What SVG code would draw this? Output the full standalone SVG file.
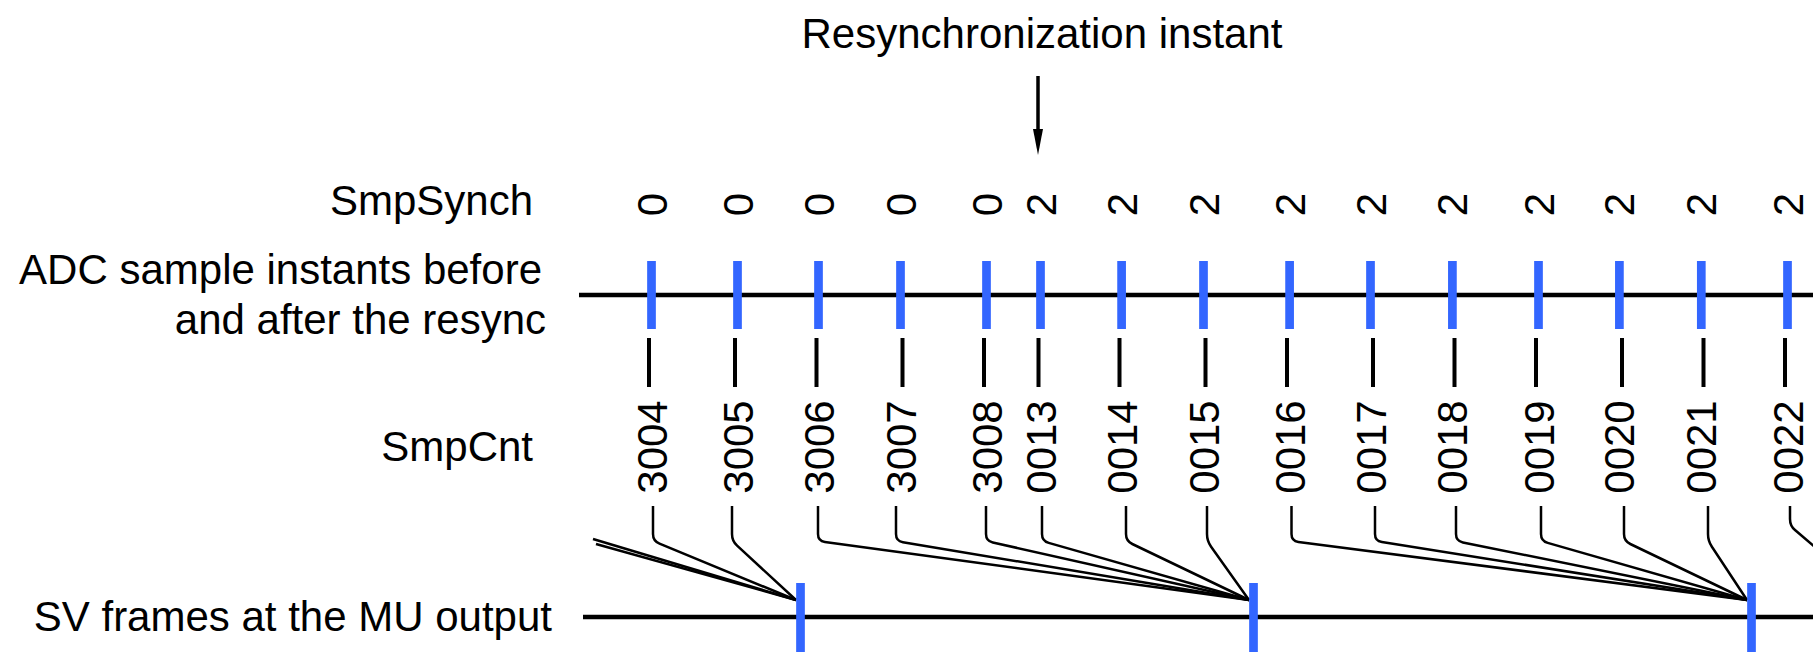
<svg xmlns="http://www.w3.org/2000/svg" width="1813" height="652" viewBox="0 0 1813 652">
  <style>
    .lbl { font-family: "Liberation Sans", Arial, Helvetica, sans-serif; font-size: 42px; fill: #000; }
    .end { text-anchor: end; }
    .mid { text-anchor: middle; }
    .axis { stroke: #000; stroke-width: 4.3; fill: none; }
    .tick { stroke: #3366ff; stroke-width: 8.7; fill: none; }
    .stem { stroke: #000; stroke-width: 4; fill: none; }
    .wire { stroke: #000; stroke-width: 2.5; fill: none; stroke-linejoin: round; }
    .pointer { stroke: #000; stroke-width: 3.5; fill: none; }
  </style>
  <defs>
    <marker id="head" markerUnits="userSpaceOnUse" viewBox="0 0 26 10" markerWidth="26" markerHeight="10" refX="6" refY="5" orient="auto">
      <path d="M0,0 L26,5 L0,10 z" fill="#000"/>
    </marker>
  </defs>
  <rect width="1813" height="652" fill="#fff"/>

  <!-- resynchronization marker -->
  <g id="resync">
    <text class="lbl mid" x="1042" y="48">Resynchronization instant</text>
    <line class="pointer" x1="1038" y1="76" x2="1038" y2="135" marker-end="url(#head)"/>
  </g>

  <!-- row labels -->
  <g id="row-labels">
    <text class="lbl end" x="533" y="215">SmpSynch</text>
    <text class="lbl end" x="542" y="284">ADC sample instants before</text>
    <text class="lbl end" x="546" y="334">and after the resync</text>
    <text class="lbl end" x="533" y="461">SmpCnt</text>
    <text class="lbl end" x="552" y="631">SV frames at the MU output</text>
  </g>

  <!-- SmpSynch values, one per sample -->
  <g id="smpsynch">
    <text class="lbl mid" transform="translate(666.5 204.5) rotate(-90)">0</text>
    <text class="lbl mid" transform="translate(752.5 204.5) rotate(-90)">0</text>
    <text class="lbl mid" transform="translate(833.5 204.5) rotate(-90)">0</text>
    <text class="lbl mid" transform="translate(915.5 204.5) rotate(-90)">0</text>
    <text class="lbl mid" transform="translate(1001.5 204.5) rotate(-90)">0</text>
    <text class="lbl mid" transform="translate(1055.5 204.5) rotate(-90)">2</text>
    <text class="lbl mid" transform="translate(1136.6 204.5) rotate(-90)">2</text>
    <text class="lbl mid" transform="translate(1218.5 204.5) rotate(-90)">2</text>
    <text class="lbl mid" transform="translate(1304.6 204.5) rotate(-90)">2</text>
    <text class="lbl mid" transform="translate(1385.5 204.5) rotate(-90)">2</text>
    <text class="lbl mid" transform="translate(1467.4 204.5) rotate(-90)">2</text>
    <text class="lbl mid" transform="translate(1553.5 204.5) rotate(-90)">2</text>
    <text class="lbl mid" transform="translate(1634.4 204.5) rotate(-90)">2</text>
    <text class="lbl mid" transform="translate(1716.3 204.5) rotate(-90)">2</text>
    <text class="lbl mid" transform="translate(1802.5 204.5) rotate(-90)">2</text>
  </g>

  <!-- ADC sampling axis with sample instants -->
  <g id="adc-axis">
    <line class="axis" x1="579" y1="295" x2="1813" y2="295"/>
    <path class="tick" d="M651.5 261V329 M737.5 261V329 M818.5 261V329 M900.5 261V329 M986.5 261V329 M1040.5 261V329 M1121.6 261V329 M1203.5 261V329 M1289.6 261V329 M1370.5 261V329 M1452.4 261V329 M1538.5 261V329 M1619.4 261V329 M1701.3 261V329 M1787.5 261V329"/>
  </g>

  <!-- stems from sample instants to counters -->
  <g id="stems">
    <path class="stem" d="M649 338V387 M735 338V387 M816.5 338V387 M902.5 338V387 M984 338V387 M1038.5 338V387 M1119.5 338V387 M1205.5 338V387 M1287 338V387 M1373 338V387 M1454.5 338V387 M1536 338V387 M1622 338V387 M1703.5 338V387 M1785 338V387"/>
  </g>

  <!-- SmpCnt values -->
  <g id="smpcnt">
    <text class="lbl mid" transform="translate(666.5 447) rotate(-90)">3004</text>
    <text class="lbl mid" transform="translate(752.5 447) rotate(-90)">3005</text>
    <text class="lbl mid" transform="translate(833.5 447) rotate(-90)">3006</text>
    <text class="lbl mid" transform="translate(915.5 447) rotate(-90)">3007</text>
    <text class="lbl mid" transform="translate(1001.5 447) rotate(-90)">3008</text>
    <text class="lbl mid" transform="translate(1055.5 447) rotate(-90)">0013</text>
    <text class="lbl mid" transform="translate(1136.6 447) rotate(-90)">0014</text>
    <text class="lbl mid" transform="translate(1218.5 447) rotate(-90)">0015</text>
    <text class="lbl mid" transform="translate(1304.6 447) rotate(-90)">0016</text>
    <text class="lbl mid" transform="translate(1385.5 447) rotate(-90)">0017</text>
    <text class="lbl mid" transform="translate(1467.4 447) rotate(-90)">0018</text>
    <text class="lbl mid" transform="translate(1553.5 447) rotate(-90)">0019</text>
    <text class="lbl mid" transform="translate(1634.4 447) rotate(-90)">0020</text>
    <text class="lbl mid" transform="translate(1716.3 447) rotate(-90)">0021</text>
    <text class="lbl mid" transform="translate(1802.5 447) rotate(-90)">0022</text>
  </g>

  <!-- sample-to-frame connectors -->
  <g id="connectors">
    <!-- frame 1 -->
    <path class="wire" d="M593 539L796 600"/>
    <path class="wire" d="M596 544L796 600"/>
    <path class="wire" d="M653 506V534Q653 541 659.5 543.7L796 600"/>
    <path class="wire" d="M732 506V534Q732 541 737.1 545.7L796 600"/>
    <!-- frame 2 -->
    <path class="wire" d="M818 506V534Q818 541 824.9 541.9L1249 600"/>
    <path class="wire" d="M896 506V534Q896 541 902.9 542.2L1249 600"/>
    <path class="wire" d="M986 506V534Q986 541 992.8 542.5L1249 600"/>
    <path class="wire" d="M1042 506V534Q1042 541 1048.7 542.9L1249 600"/>
    <path class="wire" d="M1126 506V534Q1126 541 1132.3 544L1249 600"/>
    <path class="wire" d="M1207 506V534Q1207 541 1211.1 546.7L1249 600"/>
    <!-- frame 3 -->
    <path class="wire" d="M1291.5 506V534Q1291.5 541 1298.4 541.9L1747 600"/>
    <path class="wire" d="M1375 506V534Q1375 541 1381.9 542.1L1747 600"/>
    <path class="wire" d="M1456 506V534Q1456 541 1462.9 542.4L1747 600"/>
    <path class="wire" d="M1541 506V534Q1541 541 1547.7 542.9L1747 600"/>
    <path class="wire" d="M1624 506V534Q1624 541 1630.3 544L1747 600"/>
    <path class="wire" d="M1708 506V534Q1708 541 1711.9 546.8L1747 600"/>
    <!-- next frame -->
    <path class="wire" d="M1790 506V519Q1790 526 1795 530L1830 560"/>
  </g>

  <!-- MU output axis with SV frames -->
  <g id="sv-axis">
    <line class="axis" x1="583" y1="617" x2="1813" y2="617"/>
    <line class="tick" x1="800.5" y1="583" x2="800.5" y2="652"/>
    <line class="tick" x1="1253.5" y1="583" x2="1253.5" y2="652"/>
    <line class="tick" x1="1751.5" y1="583" x2="1751.5" y2="652"/>
  </g>
</svg>
